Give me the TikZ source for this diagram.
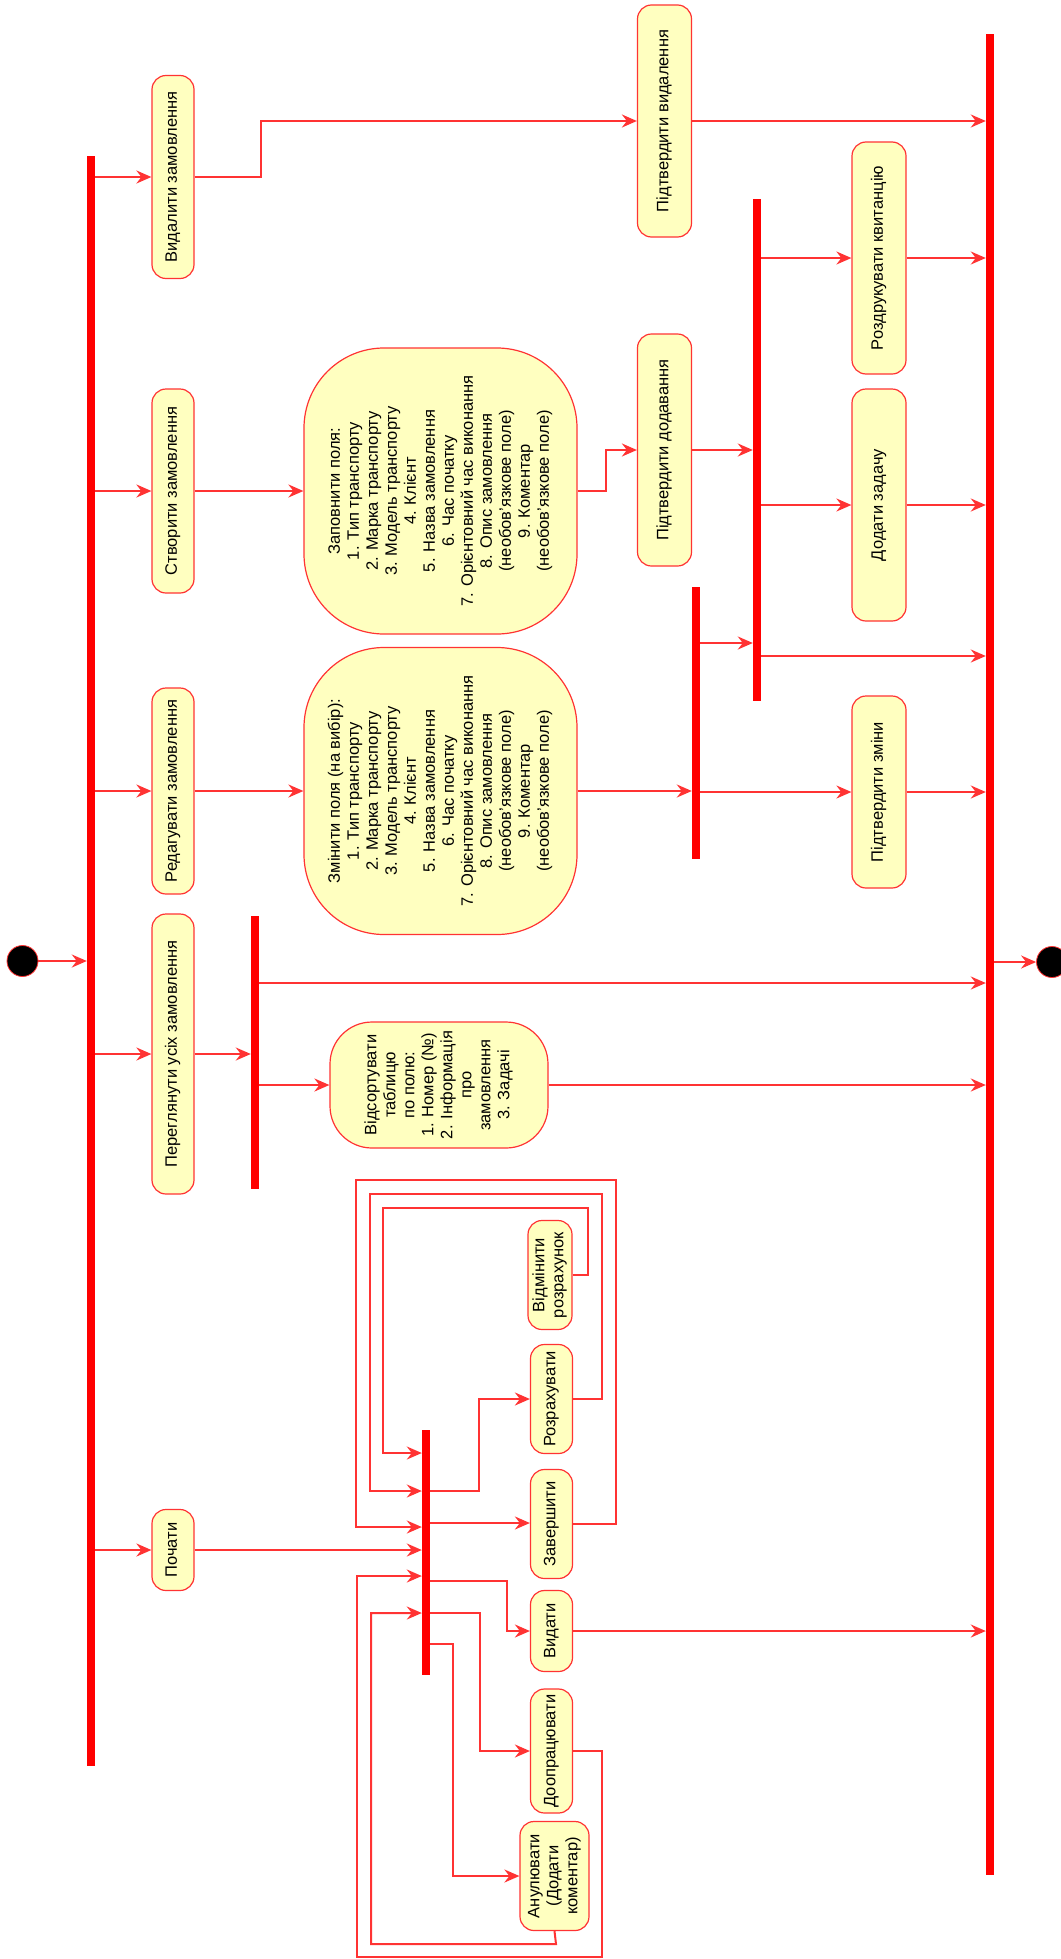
\documentclass[tikz,border=0pt]{standalone}
\usepackage{fontspec}
\setmainfont{Liberation Sans}
\usepackage{graphicx}
\usetikzlibrary{arrows.meta}
\definecolor{lred}{RGB}{255,51,51}
\definecolor{barred}{RGB}{255,0,0}
\definecolor{boxfill}{RGB}{255,255,192}
\newcommand\rotxt[1]{\rotatebox{90}{\begin{tabular}{@{}c@{}}#1\end{tabular}}}
\begin{document}
\begin{tikzpicture}[x=1pt,y=-1pt,
 act/.style={draw=lred, line width=1.2pt, fill=boxfill, rounded corners=14pt, inner sep=0pt, font=\fontsize{16.5}{19}\selectfont, text=black},
 bigact/.style={act, rounded corners=80pt},
 bar/.style={fill=barred, draw=none, inner sep=0pt, minimum width=8pt},
 conn/.style={draw=lred, line width=2pt},
 arr/.style={conn, -{Stealth[length=15pt,width=13pt,inset=5pt]}},
 dot/.style={circle, fill=black, draw=lred, line width=0.8pt, minimum size=31pt, inner sep=0pt}]
\fill[white] (0,0) rectangle (1060,1959);
\useasboundingbox (0,0) rectangle (1060,1959);

% start / end
\node[dot] (st) at (22.5,961) {};
\node[dot] (en) at (1052,962) {};

% bars
\node[bar, minimum height=1610pt] (B0) at (91,961) {};
\node[bar, minimum height=273pt] (B2) at (255,1052.5) {};
\node[bar, minimum height=502pt] (B3) at (757,450) {};
\node[bar, minimum height=272pt] (B4) at (696,723) {};
\node[bar, minimum height=1841pt] (BE) at (990,954.5) {};
\node[bar, minimum height=245pt] (B5) at (426,1552.5) {};

% column 1
\node[act, minimum width=42pt, minimum height=203pt] (del) at (173,177) {\rotxt{Видалити замовлення}};
\node[act, minimum width=42pt, minimum height=204pt] (cre) at (173,491) {\rotxt{Створити замовлення}};
\node[act, minimum width=42pt, minimum height=206pt] (edt) at (173,791) {\rotxt{Редагувати замовлення}};
\node[act, minimum width=42pt, minimum height=280pt] (vie) at (173,1054) {\rotxt{Переглянути усіх замовлення}};
\node[act, minimum width=42pt, minimum height=81pt] (beg) at (173,1550) {\rotxt{Почати}};

% column 2
\node[bigact, minimum width=273pt, minimum height=286pt] (fil) at (440.5,491) {\rotxt{Заповнити поля:\\1. Тип транспорту\\2. Марка транспорту\\3. Модель транспорту\\4. Клієнт\\5. Назва замовлення\\6. Час початку\\7. Орієнтовний час виконання\\8. Опис замовлення\\(необов'язкове поле)\\9. Коментар\\(необов'язкове поле)}};
\node[bigact, minimum width=273pt, minimum height=287pt] (chg) at (440.5,791) {\rotxt{Змінити поля (на вибір):\\1. Тип транспорту\\2. Марка транспорту\\3. Модель транспорту\\4. Клієнт\\5. Назва замовлення\\6. Час початку\\7. Орієнтовний час виконання\\8. Опис замовлення\\(необов'язкове поле)\\9. Коментар\\(необов'язкове поле)}};
\node[act, rounded corners=42pt, minimum width=218pt, minimum height=126pt] (srt) at (439,1085) {\rotxt{Відсортувати\\таблицю\\по полю:\\1. Номер (№)\\2. Інформація\\про\\замовлення\\3. Задачі}};

% column 3
\node[act, minimum width=54pt, minimum height=232pt] (cdl) at (664.5,121) {\rotxt{Підтвердити видалення}};
\node[act, minimum width=54pt, minimum height=232pt] (cad) at (664.5,450) {\rotxt{Підтвердити додавання}};

% column 4
\node[act, minimum width=54pt, minimum height=232pt] (prt) at (879,258) {\rotxt{Роздрукувати квитанцію}};
\node[act, minimum width=54pt, minimum height=232pt] (tsk) at (879,505) {\rotxt{Додати задачу}};
\node[act, minimum width=54pt, minimum height=192pt] (cch) at (879,792) {\rotxt{Підтвердити зміни}};

% bottom group
\node[act, minimum width=44pt, minimum height=109pt] (ccl) at (550,1275) {\rotxt{Відмінити\\розрахунок}};
\node[act, minimum width=42pt, minimum height=109pt] (cal) at (551.5,1399) {\rotxt{Розрахувати}};
\node[act, minimum width=42pt, minimum height=109pt] (fin) at (551.5,1524) {\rotxt{Завершити}};
\node[act, minimum width=42pt, minimum height=81pt] (iss) at (551.5,1631) {\rotxt{Видати}};
\node[act, minimum width=42pt, minimum height=124pt] (rwk) at (551.5,1751) {\rotxt{Доопрацювати}};
\node[act, minimum width=69pt, minimum height=109pt] (anl) at (554.5,1876) {\rotxt{Анулювати\\(Додати\\коментар)}};

% connectors
\draw[arr] (st.east) -- (B0.west |- st.east);
\draw[arr] (B0.east |- del.west) -- (del.west);
\draw[arr] (B0.east |- cre.west) -- (cre.west);
\draw[arr] (B0.east |- edt.west) -- (edt.west);
\draw[arr] (B0.east |- vie.west) -- (vie.west);
\draw[arr] (B0.east |- beg.west) -- (beg.west);

\draw[arr] (del.east) -- (261,177) |- (cdl.west);
\draw[arr] (cdl.east) -- (BE.west |- cdl.east);

\draw[arr] (cre.east) -- (fil.west);
\draw[arr] (fil.east) -- (606,491) |- (cad.west);
\draw[arr] (cad.east) -- (B3.west |- cad.east);
\draw[arr] (B3.east |- prt.west) -- (prt.west);
\draw[arr] (B3.east |- tsk.west) -- (tsk.west);
\draw[arr] (B3.east |- 0,656) -- (BE.west |- 0,656);
\draw[arr] (prt.east) -- (BE.west |- prt.east);
\draw[arr] (tsk.east) -- (BE.west |- tsk.east);

\draw[arr] (edt.east) -- (chg.west);
\draw[arr] (chg.east) -- (B4.west |- chg.east);
\draw[arr] (B4.east |- cch.west) -- (cch.west);
\draw[arr] (B4.east |- 0,643) -- (B3.west |- 0,643);
\draw[arr] (cch.east) -- (BE.west |- cch.east);

\draw[arr] (vie.east) -- (B2.west |- vie.east);
\draw[arr] (B2.east |- srt.west) -- (srt.west);
\draw[arr] (B2.east |- 0,983) -- (BE.west |- 0,983);
\draw[arr] (srt.east) -- (BE.west |- srt.east);

\draw[arr] (BE.east |- en.west) -- (en.west);

% bottom group connectors
\draw[arr] (beg.east) -- (B5.west |- beg.east);
\draw[arr] (B5.east |- 0,1491) -- (479,1491) |- (cal.west);
\draw[arr] (B5.east |- 0,1523) -- (fin.west |- 0,1523);
\draw[arr] (B5.east |- 0,1581) -- (507,1581) |- (iss.west);
\draw[arr] (B5.east |- 0,1613) -- (480,1613) |- (rwk.west);
\draw[arr] (B5.east |- 0,1644) -- (453,1644) |- (anl.west);
\draw[arr] (iss.east) -- (BE.west |- iss.east);

\draw[arr] (ccl.east) -- (588,1275) -- (588,1208) -- (383,1208) -- (383,1453) -- (B5.west |- 0,1453);
\draw[arr] (cal.east) -- (602,1399) -- (602,1194) -- (370,1194) -- (370,1491) -- (B5.west |- 0,1491);
\draw[arr] (fin.east) -- (616,1524) -- (616,1180) -- (356,1180) -- (356,1527) -- (B5.west |- 0,1527);
\draw[arr] (rwk.east) -- (602,1751) -- (602,1957) -- (357,1957) -- (357,1576) -- (B5.west |- 0,1576);
\draw[arr] (anl.south) -- (556,1944) -- (371,1944) -- (371,1613) -- (B5.west |- 0,1613);
\end{tikzpicture}
\end{document}
